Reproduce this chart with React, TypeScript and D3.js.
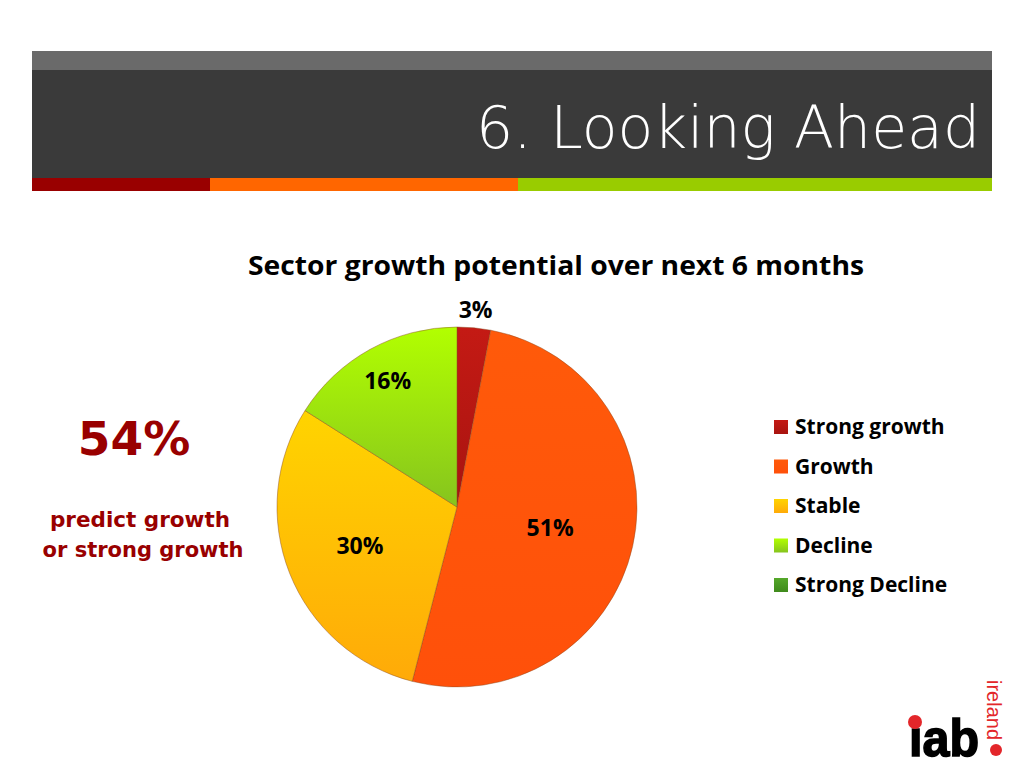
import React from "react";
import * as d3 from "d3";

const categories = ["Strong growth", "Growth", "Stable", "Decline", "Strong Decline"];
const values = [3, 51, 30, 16, 0];
const labels = ["3%", "51%", "30%", "16%", ""];
const topColors = ["#C41A14", "#FF5A0A", "#FFD400", "#B2FF00", "#55A82A"];
const bottomColors = ["#A81410", "#FF500A", "#FFAA08", "#86C41E", "#3F8A1C"];
const headerBars = [
  { from: 32, to: 210, color: "#990000" },
  { from: 210, to: 518, color: "#FF6600" },
  { from: 518, to: 992, color: "#99CC00" },
];

const W = 1024;
const H = 768;
const cx = 457;
const cy = 507;
const R = 180;
// label distance from centre, as a fraction of the radius
const labelRadius = [1.1, 0.53, 0.58, 0.8, 0.8];

export default function App() {
  const pie = d3.pie<number>().sort(null).value((d) => d).startAngle(0).endAngle(Math.PI * 2);
  const arcs = pie(values);
  const arcGen = d3.arc<d3.PieArcDatum<number>>().innerRadius(0).outerRadius(R);
  const labelPos = (i: number, a: d3.PieArcDatum<number>): [number, number] => {
    const ang = (a.startAngle + a.endAngle) / 2;
    const rr = R * labelRadius[i];
    return [Math.sin(ang) * rr, -Math.cos(ang) * rr];
  };
  const legendY = d3.scaleLinear().domain([0, 4]).range([427, 585]);

  return (
    <svg width={W} height={H} style={{ position: "absolute", left: 0, top: 0 }}>
      <defs>
        {categories.map((c, i) => (
          <linearGradient key={c} id={`g${i}`} x1="0" y1="0" x2="0" y2="1">
            <stop offset="0%" stopColor={topColors[i]} />
            <stop offset="100%" stopColor={bottomColors[i]} />
          </linearGradient>
        ))}
      </defs>
      <rect x={0} y={0} width={W} height={H} fill="#ffffff" />
      {/* header */}
      <rect x={32} y={51} width={960} height={20} fill="#6A6A6A" />
      <rect x={32} y={70} width={960} height={108} fill="#3A3A3A" />
      {headerBars.map((b) => (
        <rect key={b.color} x={b.from} y={178} width={b.to - b.from} height={13} fill={b.color} />
      ))}
      <text
        x={980}
        y={148}
        textAnchor="end"
        fill="#ffffff"
        fontFamily="'DejaVu Sans', Lato, sans-serif"
        fontWeight={200}
        fontSize={58}
        textLength={504}
        lengthAdjust="spacingAndGlyphs"
      >
        6. Looking Ahead
      </text>

      {/* chart title */}
      <text
        x={556}
        y={275}
        textAnchor="middle"
        fill="#000000"
        fontFamily="'Open Sans', Lato, sans-serif"
        fontWeight={700}
        fontSize={27}
        textLength={616}
        lengthAdjust="spacingAndGlyphs"
      >
        Sector growth potential over next 6 months
      </text>

      {/* pie */}
      <g transform={`translate(${cx},${cy})`}>
        {arcs.map((a, i) =>
          a.value > 0 ? (
            <path key={categories[i]} d={arcGen(a) || ""} fill={`url(#g${i})`} stroke="#8A4A20" strokeOpacity={0.45} strokeWidth={1} />
          ) : null
        )}
        {arcs.map((a, i) => {
          if (!labels[i]) return null;
          const [lx, ly] = labelPos(i, a);
          return (
            <text
              key={"l" + i}
              x={lx}
              y={ly}
              dy="0.36em"
              textAnchor="middle"
              fill="#000000"
              fontFamily="'Open Sans', Lato, sans-serif"
              fontWeight={700}
              fontSize={23}
            >
              {labels[i]}
            </text>
          );
        })}
      </g>

      {/* legend */}
      {categories.map((c, i) => (
        <g key={"lg" + c} transform={`translate(774,${legendY(i)})`}>
          <rect x={0} y={-7} width={14} height={14} fill={`url(#g${i})`} />
          <text
            x={21}
            y={0}
            dy="0.35em"
            fill="#000000"
            fontFamily="'Open Sans', Lato, sans-serif"
            fontWeight={700}
            fontSize={21}
          >
            {c}
          </text>
        </g>
      ))}

      {/* left callout */}
      <text
        x={134}
        y={455}
        textAnchor="middle"
        fill="#990000"
        fontFamily="'DejaVu Sans', Lato, sans-serif"
        fontWeight={700}
        fontSize={47}
      >
        54%
      </text>
      <text
        x={140}
        y={527}
        textAnchor="middle"
        fill="#990000"
        fontFamily="'DejaVu Sans', Lato, sans-serif"
        fontWeight={700}
        fontSize={21.5}
      >
        predict growth
      </text>
      <text
        x={143}
        y={557}
        textAnchor="middle"
        fill="#990000"
        fontFamily="'DejaVu Sans', Lato, sans-serif"
        fontWeight={700}
        fontSize={21}
      >
        or strong growth
      </text>

      {/* logo */}
      <text
        x={909}
        y={756}
        fill="#000000"
        stroke="#000000"
        strokeWidth={1.6}
        fontFamily="'Liberation Sans', Arial, sans-serif"
        fontWeight={900}
        fontSize={52}
        textLength={70}
        lengthAdjust="spacingAndGlyphs"
      >
        ıab
      </text>
      <circle cx={915} cy={722} r={7} fill="#E3262A" />
      <circle cx={996} cy={750} r={6} fill="#E3262A" />
      <text
        transform="translate(987,680) rotate(90)"
        fill="#E3262A"
        fontFamily="'Liberation Sans', Arial, sans-serif"
        fontSize={20}
      >
        ireland
      </text>
    </svg>
  );
}
